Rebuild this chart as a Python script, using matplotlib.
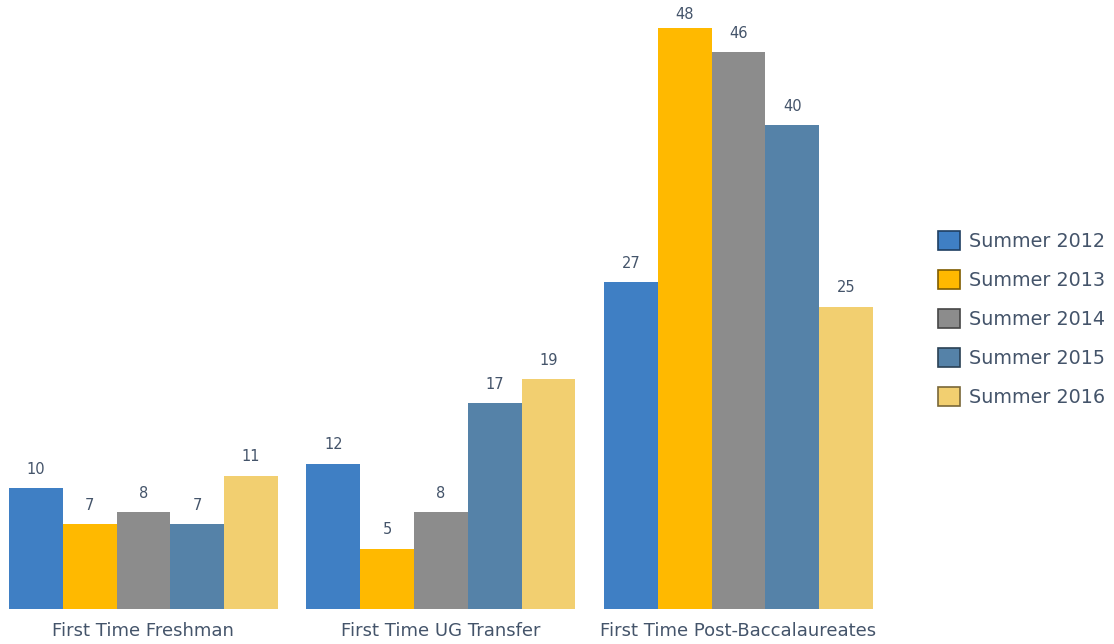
import matplotlib.pyplot as plt
from matplotlib.patches import Patch
import numpy as np

categories = ['First Time Freshman', 'First Time UG Transfer', 'First Time Post-Baccalaureates']
series = ['Summer 2012', 'Summer 2013', 'Summer 2014', 'Summer 2015', 'Summer 2016']
values = {
    'Summer 2012': [10, 12, 27],
    'Summer 2013': [7, 5, 48],
    'Summer 2014': [8, 8, 46],
    'Summer 2015': [7, 17, 40],
    'Summer 2016': [11, 19, 25],
}
colors = ['#3F7FC4', '#FFB900', '#8C8C8C', '#5582A8', '#F2CF70']
edges = ['#1F3F62', '#7F5C00', '#464646', '#2A4154', '#796738']
text_color = '#44546A'

fig = plt.figure(figsize=(11.14, 6.44), dpi=100)
ax = fig.add_axes([0, 35 / 644, 890 / 1114, 609 / 644])
ytop = 609 / 12.1

x = np.arange(len(categories))
width = 0.1808
for i, s in enumerate(series):
    pos = x + (i - 2) * width
    bars = ax.bar(pos, values[s], width=width, color=colors[i], label=s)
    for b, v in zip(bars, values[s]):
        # labels near the top get squeezed down so they stay inside the chart
        ylab = min(v + 1.57, ytop - 1.2)
        ax.text(b.get_x() + b.get_width() / 2, ylab, str(v), ha='center', va='center',
                fontsize=10.5, color=text_color)

ax.set_xlim(-0.482, 2.509)
ax.set_ylim(0, ytop)
ax.set_xticks(x)
ax.set_xticklabels(categories, fontsize=13, color=text_color)
ax.tick_params(axis='x', length=0, pad=9)
ax.set_yticks([])
for sp in ax.spines.values():
    sp.set_visible(False)

# legend on the right, built by hand from the series colours
handles = [Patch(facecolor=colors[i], edgecolor=edges[i], linewidth=1.2) for i in range(len(series))]
leg = fig.legend(handles, series, loc='center left', bbox_to_anchor=(938 / 1114, 325 / 644),
                 frameon=False, fontsize=13.8, handlelength=1.15, handleheight=1.15,
                 labelspacing=1.0, handletextpad=0.45, borderpad=0, borderaxespad=0)
for t in leg.get_texts():
    t.set_color(text_color)

fig.savefig('out.png', dpi=100)
